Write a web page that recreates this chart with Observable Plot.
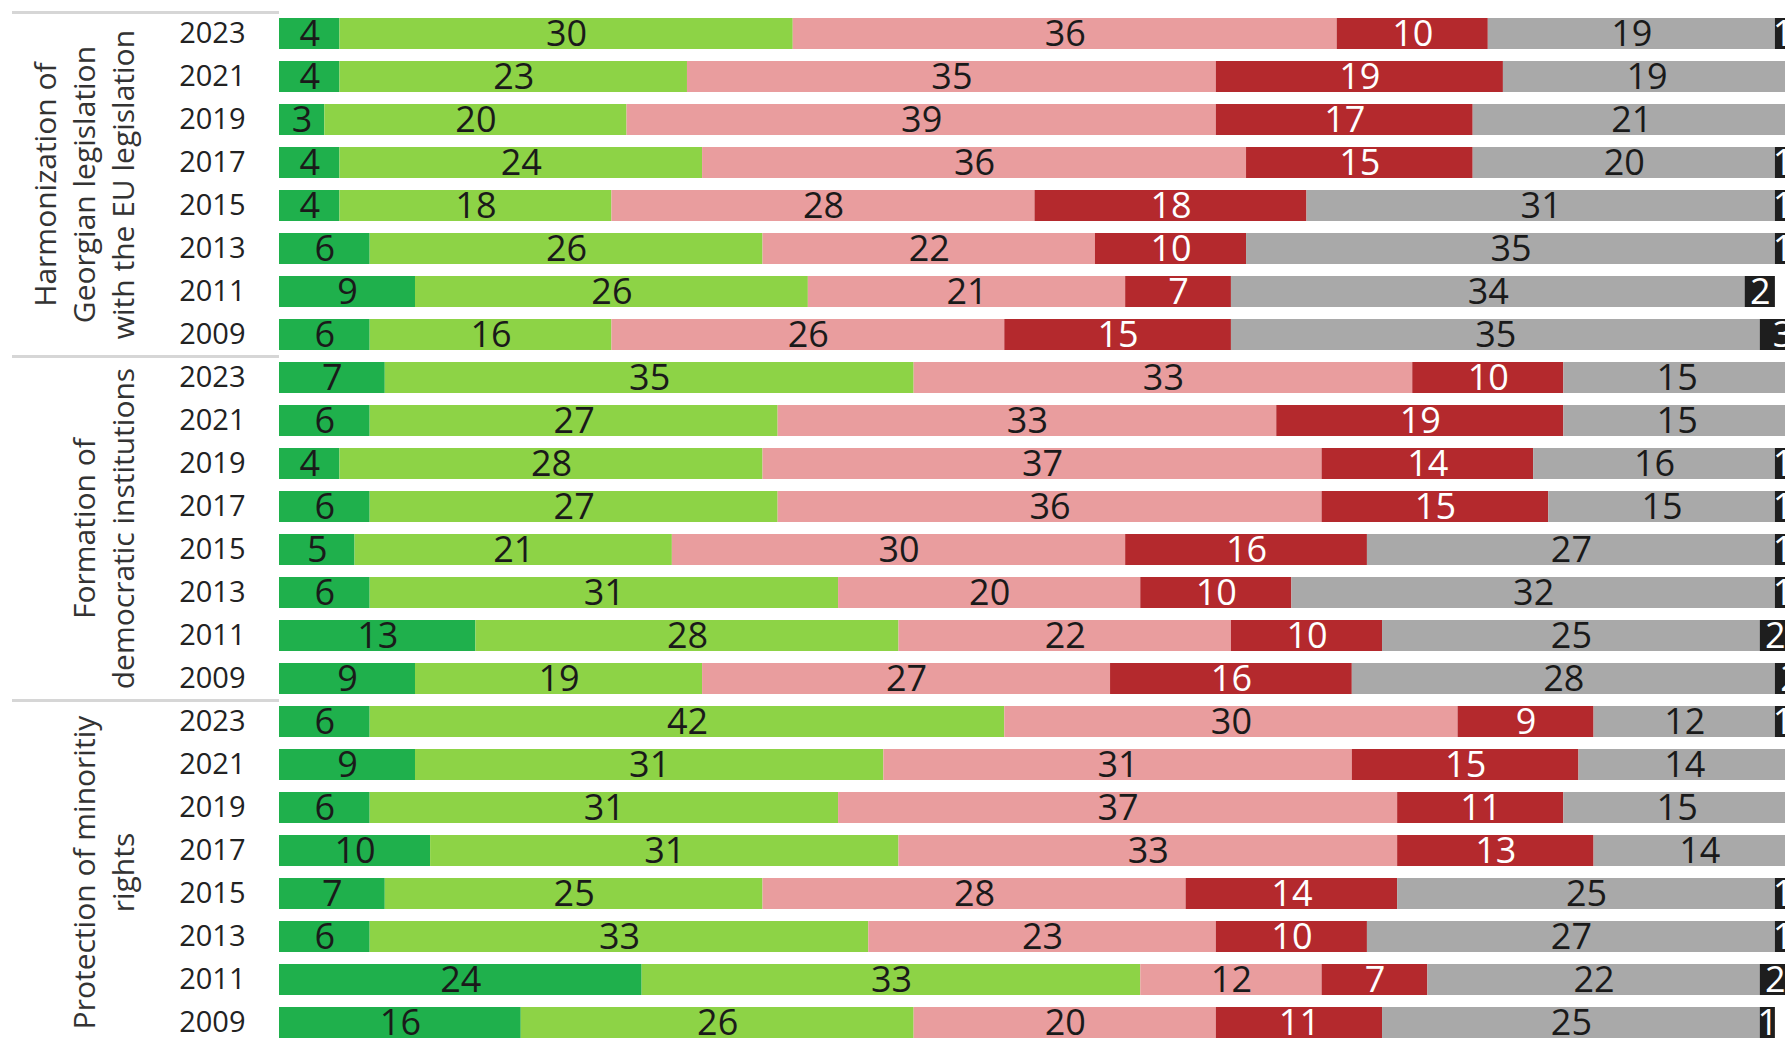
<!DOCTYPE html>
<html>
<head>
<meta charset="utf-8">
<script src="https://cdn.jsdelivr.net/npm/d3@7"></script>
<script src="https://cdn.jsdelivr.net/npm/@observablehq/plot@0.6"></script>
<style>
html, body { margin: 0; padding: 0; background: #fff; overflow: hidden; }
#chart svg { display: block; }
</style>
</head>
<body>
<div id="chart"></div>
<script>
// ---- data ----
const groups = [
  "Harmonization of\nGeorgian legislation\nwith the EU legislation",
  "Formation of\ndemocratic institutions",
  "Protection of minoritiy\nrights"
];
const years = [2023, 2021, 2019, 2017, 2015, 2013, 2011, 2009];
const categories = ["cat1", "cat2", "cat3", "cat4", "cat5", "cat6"];
const colors = ["#1fb04c", "#8dd346", "#e99d9e", "#b4292d", "#a9a9a9", "#1e1e1e"];
const darkTextCats = ["cat1", "cat2", "cat3", "cat5"];
const lightTextCats = ["cat4", "cat6"];

const harmonization = [
  [4, 30, 36, 10, 19, 1],
  [4, 23, 35, 19, 19, 1],
  [3, 20, 39, 17, 21, 1],
  [4, 24, 36, 15, 20, 1],
  [4, 18, 28, 18, 31, 1],
  [6, 26, 22, 10, 35, 1],
  [9, 26, 21, 7, 34, 2],
  [6, 16, 26, 15, 35, 3]
];
const formation = [
  [7, 35, 33, 10, 15, 1],
  [6, 27, 33, 19, 15, 1],
  [4, 28, 37, 14, 16, 1],
  [6, 27, 36, 15, 15, 1],
  [5, 21, 30, 16, 27, 1],
  [6, 31, 20, 10, 32, 1],
  [13, 28, 22, 10, 25, 2],
  [9, 19, 27, 16, 28, 2]
];
const protection = [
  [6, 42, 30, 9, 12, 1],
  [9, 31, 31, 15, 14, 1],
  [6, 31, 37, 11, 15, 1],
  [10, 31, 33, 13, 14, 1],
  [7, 25, 28, 14, 25, 1],
  [6, 33, 23, 10, 27, 1],
  [24, 33, 12, 7, 22, 2],
  [16, 26, 20, 11, 25, 1]
];
const groupValues = [harmonization, formation, protection];

// ---- build table ----
const rows = [];
const keys = [];
groups.forEach((g, gi) => {
  years.forEach((yr, yi) => {
    const key = gi + "|" + yr;
    keys.push(key);
    categories.forEach((c, ci) => {
      rows.push({key, group: g, year: yr, cat: c, value: groupValues[gi][yi][ci]});
    });
  });
});
const groupStarts = groups.map((g, gi) => gi + "|" + years[0]);
const groupMids = groups.map((g, gi) => ({key: gi + "|" + years[3], label: g}));

const yRange = [10.4, 1046.1];
const step = (yRange[1] - yRange[0]) / keys.length;

const chart = Plot.plot({
  width: 1785,
  height: 1038,
  marginLeft: 279,
  marginRight: 0,
  marginTop: 0,
  marginBottom: 0,
  style: {fontFamily: "'Open Sans', 'Noto Sans', sans-serif", background: "white", overflow: "hidden"},
  x: {domain: [0, 100], range: [279, 1790], axis: null},
  y: {domain: keys, range: yRange, paddingInner: 0.28, paddingOuter: 0.14, axis: null},
  color: {domain: categories, range: colors},
  marks: [
    Plot.ruleY(groupStarts, {y: d => d, dy: -step / 2, insetLeft: -267, insetRight: 1506, stroke: "#d6d6d6", strokeWidth: 3}),
    Plot.barX(rows, Plot.stackX({x: "value", y: "key", fill: "cat", order: categories})),
    Plot.text(rows, Plot.stackX({
      x: "value", y: "key", z: "cat", order: categories,
      text: d => darkTextCats.includes(d.cat) ? String(d.value) : null,
      fill: "#1a1a1a", fontSize: 36
    })),
    Plot.text(rows, Plot.stackX({
      x: "value", y: "key", z: "cat", order: categories,
      text: d => lightTextCats.includes(d.cat) ? String(d.value) : null,
      fill: "#ffffff", fontSize: 36
    })),
    Plot.text(keys, {
      y: d => d, text: d => d.split("|")[1],
      frameAnchor: "left", dx: -34, textAnchor: "end",
      fontSize: 29, fill: "#222"
    }),
    Plot.text(groupMids, {
      y: "key", dy: step / 2, text: "label",
      frameAnchor: "left", dx: -146, rotate: -90,
      textAnchor: "middle", lineAnchor: "bottom", lineHeight: 1.3,
      fontSize: 30, fill: "#333"
    })
  ]
});
document.getElementById("chart").appendChild(chart);
</script>
</body>
</html>
